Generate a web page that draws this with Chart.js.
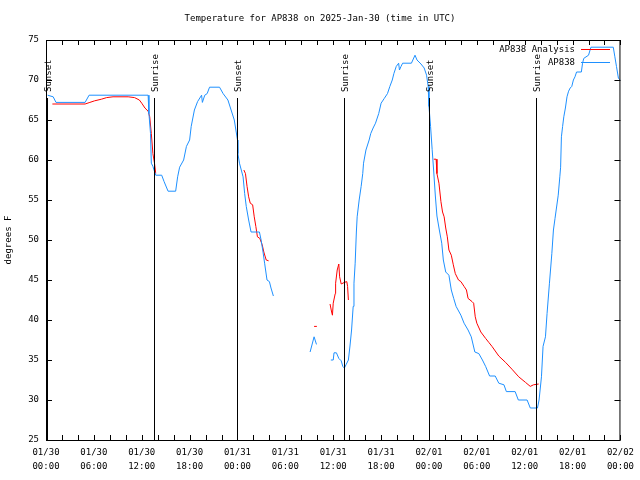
<!DOCTYPE html>
<html>
<head>
<meta charset="utf-8">
<script src="https://cdn.jsdelivr.net/npm/chart.js@4.4.1/dist/chart.umd.min.js"></script>
<style>
body{margin:0;background:#fff;}
#contenedor{width:640px;height:480px;}
</style>
</head>
<body>
<div id="contenedor"><canvas id="grafico" width="640" height="480"></canvas></div>
<script>
// horas desde 01/30 00:00 UTC, null = hueco en los datos
var horasAnalisis = [0.8,4.9,5.5,6.1,6.95,7.6,8.4,10.3,11.1,11.7,12.0,12.4,12.8,13.0,13.2,13.4,13.6,13.75,
  19,
  24.8,25.0,25.2,25.4,25.6,25.9,26.1,26.3,26.5,26.8,27.1,27.3,27.6,27.9,
  30,
  33.6,33.95,
  34.8,
  35.6,35.8,35.9,36.0,36.25,36.3,36.5,36.7,36.8,37.0,37.4,37.7,37.8,37.9,
  43,
  48.6,48.9,49.0,49.25,49.5,49.7,49.9,50.1,50.3,50.5,50.8,51.05,51.3,51.7,52.0,52.4,52.7,52.9,53.4,53.6,53.8,54.0,54.5,55.1,55.5,55.9,56.75,57.6,58.4,59.25,60.1,60.7,61.1,61.75];
var tempAnalisis = [67.0,67.0,67.2,67.4,67.6,67.8,67.9,67.9,67.8,67.5,67.1,66.5,66.1,65.4,63.3,60.8,59.6,58.3,
  null,
  58.75,58.3,56.7,55.4,54.6,54.4,52.9,51.7,50.4,50.2,49.4,48.5,47.5,47.4,
  null,
  39.2,39.2,
  null,
  42.0,41.0,40.6,42.1,43.3,44.6,46.25,47.0,45.4,44.5,44.7,44.8,44.2,42.5,
  null,
  60.1,60.1,58.3,57.1,54.8,53.5,52.9,51.5,50.4,48.75,48.1,46.9,45.8,45.0,44.8,44.2,43.75,42.7,42.3,42.1,40.4,39.6,38.5,37.7,37.2,36.7,35.5,34.7,33.85,32.9,32.2,31.7,31.9,32.0];

var horasEstacion = [0.2,0.9,1.25,4.9,5.4,12.8,12.9,13.1,13.2,13.4,13.75,14.5,14.8,15.3,16.25,16.5,16.75,17.25,17.6,18.0,18.2,18.6,19.0,19.5,19.6,19.9,20.2,20.5,21.75,22.2,22.8,23.2,23.6,23.8,24.0,24.05,24.25,24.7,24.9,25.1,25.4,25.7,26.75,26.96,27.2,27.4,27.7,28.0,28.2,28.5,
  30.8,
  33.1,33.3,33.6,33.9,
  34.8,
  35.7,36.0,36.1,36.4,36.7,37.0,37.2,37.4,37.6,37.9,38.1,38.3,38.5,38.6,38.75,38.9,39.0,39.25,39.5,39.7,39.8,40.1,40.5,40.7,41.0,41.3,41.7,42.0,42.4,42.8,43.1,43.4,43.6,43.9,44.2,44.3,44.5,44.7,45.8,46.25,46.5,47.0,47.4,47.7,47.9,48.0,48.2,48.4,48.6,48.8,49.0,49.3,49.6,49.8,50.1,50.5,50.8,51.1,51.4,52.0,52.4,52.9,53.3,53.75,54.25,54.7,55.1,55.6,56.3,56.75,57.4,57.7,58.8,59.2,60.3,60.7,61.6,61.8,62.1,62.3,62.6,62.8,63.1,63.4,63.6,63.8,64.2,64.4,64.5,64.6,64.75,64.9,65.1,65.3,65.5,65.7,65.9,66.1,66.3,66.5,67.1,67.25,67.4,68.0,68.3,71.1,71.3,71.5,71.75,72.0];
var tempEstacion = [68.1,67.9,67.2,67.2,68.1,68.1,65.8,63.3,59.6,59.2,58.1,58.1,57.3,56.1,56.1,57.9,59.1,60.0,61.7,62.5,64.2,66.25,67.3,68.1,67.2,68.1,68.3,69.1,69.1,68.3,67.5,66.25,65.0,63.75,62.5,60.8,59.6,57.9,55.8,54.2,52.5,51.0,51.0,50.0,48.5,47.1,45.0,44.8,44.0,43.0,
  null,
  36.0,36.75,37.9,36.95,
  null,
  35.0,35.0,35.9,35.9,35.2,34.9,34.2,34.0,34.4,35.0,36.75,38.75,41.7,44.6,47.1,51.0,52.9,55.0,56.7,58.3,59.6,61.25,62.5,63.3,64.0,64.6,65.8,67.1,67.7,68.3,69.2,70.0,70.8,71.7,72.1,71.25,71.7,72.1,72.1,73.1,72.5,72.0,71.5,70.6,69.2,66.7,64.2,61.3,58.5,55.5,53.0,51.25,49.6,47.5,46.0,45.6,43.75,42.7,41.7,40.6,39.6,38.75,37.9,36.0,35.8,35.0,34.2,33.0,33.0,32.1,31.9,31.05,31.05,30.0,30.0,29.0,29.0,30.0,32.9,36.7,37.9,40.8,44.6,48.3,51.25,52.7,55.6,57.9,59.1,62.9,64.2,65.4,66.5,67.9,68.6,69.0,69.2,70.0,70.4,71.0,71.0,72.1,72.7,73.1,74.1,74.1,72.9,71.7,70.2,70.0];

// etiquetas del eje x cada 6 horas
var etiquetasX = [['01/30','00:00'],['01/30','06:00'],['01/30','12:00'],['01/30','18:00'],
  ['01/31','00:00'],['01/31','06:00'],['01/31','12:00'],['01/31','18:00'],
  ['02/01','00:00'],['02/01','06:00'],['02/01','12:00'],['02/01','18:00'],['02/02','00:00']];

// salida y puesta del sol
var horasSol = [0.1,13.5,24.0,37.4,48.0,61.4];
var nombresSol = ['Sunset','Sunrise','Sunset','Sunrise','Sunset','Sunrise'];

var titulo = 'Temperature for AP838 on 2025-Jan-30 (time in UTC)';
var fuente = "'DejaVu Sans Mono', monospace";

function puntos(horas, temps){
    let lista = [];
    for(let i = 0; i < horas.length; i++){
        lista.push({x: horas[i], y: temps[i]});
    }
    return lista;
}

// titulo, marcas hacia adentro, marco, lineas de sol y leyenda estilo gnuplot
var pluginMarcas = {
    id: 'marcas',
    afterDatasetsDraw(chart){
        const ctx = chart.ctx;
        const a = chart.chartArea;
        const x = chart.scales.x;
        const y = chart.scales.y;
        ctx.save();
        ctx.fillStyle = '#000';
        ctx.font = '9px ' + fuente;
        ctx.textAlign = 'center';
        ctx.textBaseline = 'middle';
        ctx.fillText(titulo, chart.width / 2, 19);

        ctx.strokeStyle = '#000';
        ctx.lineWidth = 1;
        ctx.beginPath();
        x.ticks.forEach(t => {
            let px = Math.round(x.getPixelForValue(t.value)) + 0.5;
            ctx.moveTo(px, a.bottom); ctx.lineTo(px, a.bottom - 5);
            ctx.moveTo(px, a.top); ctx.lineTo(px, a.top + 5);
        });
        y.ticks.forEach(t => {
            let py = Math.round(y.getPixelForValue(t.value)) + 0.5;
            ctx.moveTo(a.left, py); ctx.lineTo(a.left + 6, py);
            ctx.moveTo(a.right, py); ctx.lineTo(a.right - 6, py);
        });
        ctx.stroke();
        ctx.strokeRect(a.left + 0.5, a.top + 0.5, a.right - a.left - 1, a.bottom - a.top);

        for(let i = 0; i < horasSol.length; i++){
            let px = Math.round(x.getPixelForValue(horasSol[i])) + 0.5;
            ctx.beginPath();
            ctx.moveTo(px, 98);
            ctx.lineTo(px, a.bottom);
            ctx.stroke();
            ctx.save();
            ctx.translate(px + 1.5, 92);
            ctx.rotate(-Math.PI / 2);
            ctx.textAlign = 'left';
            ctx.textBaseline = 'middle';
            ctx.fillText(nombresSol[i], 0, 0);
            ctx.restore();
        }

        // leyenda
        chart.data.datasets.forEach((ds, i) => {
            let ly = 49.5 + i * 13;
            ctx.textAlign = 'right';
            ctx.textBaseline = 'middle';
            ctx.fillStyle = '#000';
            ctx.fillText(ds.label, 575, ly);
            ctx.strokeStyle = ds.borderColor;
            ctx.beginPath();
            ctx.moveTo(581, ly);
            ctx.lineTo(610, ly);
            ctx.stroke();
        });
        ctx.restore();
    }
};

Chart.defaults.color = '#000';
Chart.defaults.font.family = fuente;
Chart.defaults.font.size = 9;

var ctx = document.getElementById('grafico').getContext('2d');
var chart = new Chart(ctx, {
    type: 'line',
    data: {
        datasets: [{
            label: 'AP838 Analysis',
            data: puntos(horasAnalisis, tempAnalisis),
            borderColor: '#ff0000',
            borderWidth: 1,
            pointRadius: 0,
            tension: 0,
            spanGaps: false,
            order: 2
        },{
            label: 'AP838',
            data: puntos(horasEstacion, tempEstacion),
            borderColor: '#1e90ff',
            borderWidth: 1,
            pointRadius: 0,
            tension: 0,
            spanGaps: false,
            order: 1
        }]
    },
    options: {
        responsive: false,
        animation: false,
        layout: {padding: {top: 40, right: 18, left: 0, bottom: 0}},
        plugins: {
            legend: {display: false},
            tooltip: {enabled: false},
            title: {display: false}
        },
        scales: {
            x: {
                type: 'linear',
                min: 0,
                max: 72,
                grid: {display: false, drawTicks: false},
                border: {display: false},
                afterFit: s => { s.height = 40; },
                ticks: {
                    stepSize: 2,
                    autoSkip: false,
                    maxRotation: 0,
                    padding: 6,
                    font: {size: 9, lineHeight: 1.5},
                    callback: v => (v % 6 === 0) ? etiquetasX[v / 6] : ''
                }
            },
            y: {
                min: 25,
                max: 75,
                grid: {display: false, drawTicks: false},
                border: {display: false},
                afterFit: s => { s.width = 46; },
                ticks: {stepSize: 5, padding: 7},
                title: {display: true, text: 'degrees F', padding: {top: 3, bottom: 0}, font: {size: 9}}
            }
        }
    },
    plugins: [pluginMarcas]
});
</script>
</body>
</html>
